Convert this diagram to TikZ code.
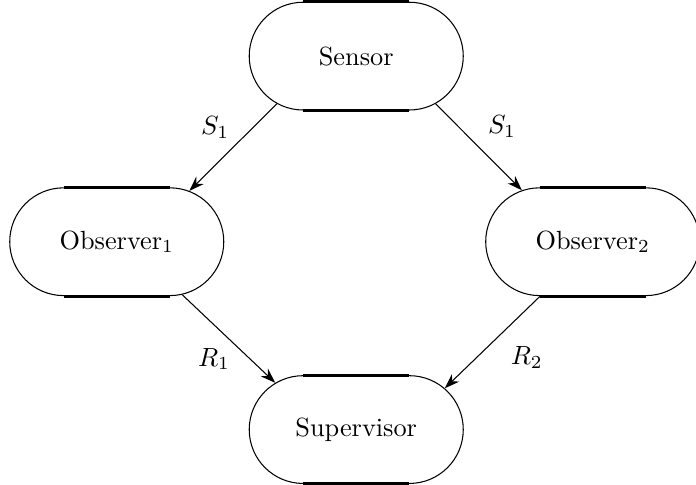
\documentclass[tikz,border=0pt]{standalone}
\usepackage{amsmath}
\usepackage{tikz}
\usetikzlibrary{shapes.misc, arrows.meta, positioning, calc}

\tikzset{
    pill/.style={rounded rectangle, draw=black, line width=0.4pt, minimum width=2.86cm, minimum height=1.44cm, inner sep=0pt},
    flow/.style={-{Stealth[length=2mm, width=1.4mm]}, line width=0.4pt}
}

\begin{document}
\begin{tikzpicture}
        \useasboundingbox (0,0) rectangle (9.30,-6.48);

        % Processes
        \node[pill] (sensor) at (4.76, -0.75) {Sensor};
        \node[pill] (obs1) at (1.56, -3.23) {Observer$_1$};
        \node[pill] (obs2) at (7.92, -3.23) {Observer$_2$};
        \node[pill] (sup) at (4.76, -5.74) {Supervisor};

        % Thick straight edges
        \foreach \n in {sensor, obs1, obs2, sup} {
            \draw[line width=1.2pt] ($(\n.north)+(-0.71,0)$) -- ($(\n.north)+(0.71,0)$);
            \draw[line width=1.2pt] ($(\n.south)+(-0.71,0)$) -- ($(\n.south)+(0.71,0)$);
        }

        % Messages
        \draw[flow] (sensor.211.5) -- node[above left, xshift=2pt] {$S_1$} (obs1.35.4);
        \draw[flow] (sensor.-31.5) -- node[above right] {$S_1$} (obs2.144.6);
        \draw[flow] (obs1.-39.8) -- node[below left, xshift=4pt] {$R_1$} (sup.150.9);
        \draw[flow] (obs2.-134) -- node[below right, xshift=3.5pt, yshift=2pt] {$R_2$} (sup.25.8);
    \end{tikzpicture}
\end{document}
